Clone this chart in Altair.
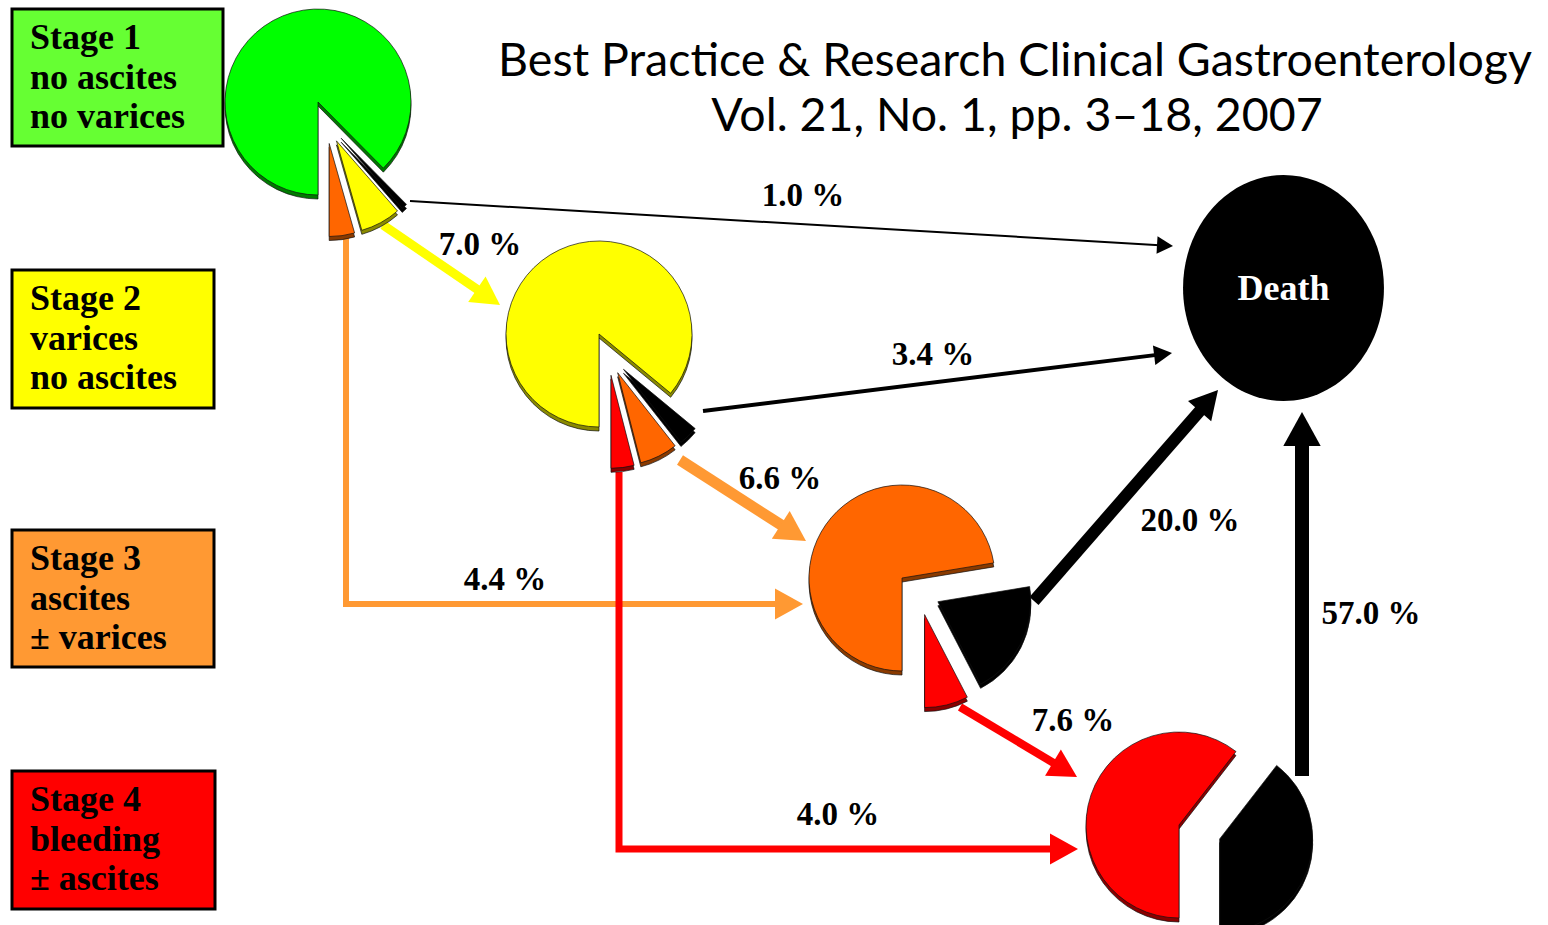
import math
import altair as alt
import pandas as pd

W, H = 1548, 925

# ---------------------------------------------------------------- values
stage_names = ["Stage 1", "Stage 2", "Stage 3", "Stage 4"]
stage_lines = [
    ["no ascites", "no varices"],
    ["varices", "no ascites"],
    ["ascites", "± varices"],
    ["bleeding", "± ascites"],
]

# one-year transition probabilities (%)
trans_from = ["Stage 1", "Stage 1", "Stage 1", "Stage 2", "Stage 2", "Stage 2",
              "Stage 3", "Stage 3", "Stage 4"]
trans_to = ["Death", "Stage 2", "Stage 3", "Death", "Stage 3", "Stage 4",
            "Death", "Stage 4", "Death"]
trans_pct = [1.0, 7.0, 4.4, 3.4, 6.6, 4.0, 20.0, 7.6, 57.0]

# pie slices, clockwise from six o'clock (share of the circle, %)
pie_stage = ["Stage 1", "Stage 1", "Stage 1", "Stage 1",
             "Stage 2", "Stage 2", "Stage 2", "Stage 2",
             "Stage 3", "Stage 3", "Stage 3",
             "Stage 4", "Stage 4"]
pie_part = ["Stage 1", "Death", "Stage 2", "Stage 3",
            "Stage 2", "Death", "Stage 3", "Stage 4",
            "Stage 3", "Death", "Stage 4",
            "Stage 4", "Death"]
pie_share = [87.6, 1.0, 7.0, 4.4,
             86.0, 3.4, 6.6, 4.0,
             72.4, 20.0, 7.6,
             60.5, 39.5]

title_lines = ["Best Practice & Research Clinical Gastroenterology",
               "Vol. 21, No. 1, pp. 3–18, 2007"]

# ---------------------------------------------------------------- styling / layout
box_fill = {"Stage 1": "#66ff33", "Stage 2": "#ffff00", "Stage 3": "#ff9933", "Stage 4": "#ff0000"}
box_rect = {"Stage 1": (12, 9, 223, 146), "Stage 2": (12, 270, 214, 408),
            "Stage 3": (12, 530, 214, 667), "Stage 4": (12, 771, 215, 909)}
slice_fill = {"Stage 1": "#00ff00", "Stage 2": "#ffff00", "Stage 3": "#ff6600",
              "Stage 4": "#ff0000", "Death": "#000000"}
slice_rim = {"Stage 1": "#007a00", "Stage 2": "#8a8a00", "Stage 3": "#8a3a00",
             "Stage 4": "#8a0000", "Death": "#000000"}
pie_center = {"Stage 1": (318, 102), "Stage 2": (599, 334),
              "Stage 3": (902, 578), "Stage 4": (1179, 825)}
PIE_R = 93
EXPLODE = 43
RIM = 4

# arrow routes (last point is the arrow tip), shaft width, colour, head length
arrow_pts = [
    [(410, 201), (1173, 246)],
    [(383, 225), (500, 305)],
    [(346, 237), (346, 604), (803, 604)],
    [(703, 411), (1172, 353)],
    [(680, 460), (806, 541)],
    [(619, 472), (619, 849), (1078, 849)],
    [(1034, 601), (1218, 390)],
    [(960, 707), (1077, 777)],
    [(1302, 776), (1302, 412)],
]
arrow_width = [2, 9, 6, 4, 11, 7, 12, 8, 14]
arrow_color = ["#000000", "#ffff00", "#ff9933", "#000000", "#ff9933", "#ff0000",
               "#000000", "#ff0000", "#000000"]
arrow_head = [16, 28, 28, 18, 30, 28, 28, 28, 34]
label_pos = [(803, 206), (480, 255), (505, 590), (933, 365), (780, 489),
             (838, 825), (1190, 531), (1073, 731), (1371, 624)]

# ---------------------------------------------------------------- scales
xs = alt.Scale(domain=[0, W], nice=False, zero=False)
ys = alt.Scale(domain=[0, H], nice=False, zero=False, reverse=True)


def X(f="x"):
    return alt.X(f"{f}:Q", scale=xs, axis=None)


def Y(f="y"):
    return alt.Y(f"{f}:Q", scale=ys, axis=None)


# ---------------------------------------------------------------- stage boxes
box_df = pd.DataFrame([
    {"x0": box_rect[s][0], "y0": box_rect[s][1], "x1": box_rect[s][2],
     "y1": box_rect[s][3], "fill": box_fill[s]} for s in stage_names])
boxes = alt.Chart(box_df).mark_rect(stroke="black", strokeWidth=3).encode(
    x=X("x0"), x2=alt.X2("x1:Q"), y=Y("y0"), y2=alt.Y2("y1:Q"),
    fill=alt.Fill("fill:N", scale=None))

box_text_rows = []
for s, extra in zip(stage_names, stage_lines):
    x0, y0 = box_rect[s][0], box_rect[s][1]
    for k, line in enumerate([s] + extra):
        box_text_rows.append({"x": x0 + 18, "y": y0 + 40 + k * 39.5, "t": line})
box_text = alt.Chart(pd.DataFrame(box_text_rows)).mark_text(
    align="left", baseline="alphabetic", font="Liberation Serif",
    fontWeight="bold", fontSize=36, color="black").encode(x=X(), y=Y(), text="t:N")

# ---------------------------------------------------------------- arrows
shaft_rows, head_rows, label_rows = [], [], []
for i, pts in enumerate(arrow_pts):
    (xa, ya), (xb, yb) = pts[-2], pts[-1]
    d = math.hypot(xb - xa, yb - ya)
    ux, uy = (xb - xa) / d, (yb - ya) / d
    L = arrow_head[i]
    shaft = pts[:-1] + [(xb - ux * L * 0.85, yb - uy * L * 0.85)]
    for k, (px, py) in enumerate(shaft):
        shaft_rows.append({"arrow": i, "k": k, "x": px, "y": py,
                           "color": arrow_color[i], "w": arrow_width[i]})
    head_rows.append({"x": xb, "y": yb, "ang": math.degrees(math.atan2(ux, -uy)) % 360,
                      "s": (2 * L) ** 2, "color": arrow_color[i]})
    label_rows.append({"x": label_pos[i][0], "y": label_pos[i][1],
                       "t": f"{trans_pct[i]:.1f} %"})

shafts = alt.Chart(pd.DataFrame(shaft_rows)).mark_line(
    strokeCap="butt", strokeJoin="miter").encode(
    x=X(), y=Y(), detail="arrow:N", order="k:Q",
    color=alt.Color("color:N", scale=None),
    strokeWidth=alt.StrokeWidth("w:Q", scale=None))

heads = alt.Chart(pd.DataFrame(head_rows)).mark_point(
    shape="M0,0 L0.55,1 L-0.55,1 Z", filled=True, opacity=1, strokeWidth=0).encode(
    x=X(), y=Y(), angle=alt.Angle("ang:Q", scale=None),
    size=alt.Size("s:Q", scale=None), color=alt.Color("color:N", scale=None))

labels = alt.Chart(pd.DataFrame(label_rows)).mark_text(
    align="center", baseline="alphabetic", font="Liberation Serif",
    fontWeight="bold", fontSize=33, color="black").encode(x=X(), y=Y(), text="t:N")

# ---------------------------------------------------------------- pies
pie_rows = []
for s in stage_names:
    idx = [i for i, st in enumerate(pie_stage) if st == s]
    cx, cy = pie_center[s]
    a = math.pi
    spans = []
    for i in idx:
        a1 = a + pie_share[i] / 100 * 2 * math.pi
        spans.append((i, a, a1))
        a = a1
    out = [sp for sp in spans if pie_part[sp[0]] != s]
    group_mid = (out[0][1] + out[-1][2]) / 2 if out else 0
    for i, t0, t1 in spans:
        px, py = cx, cy
        if pie_part[i] != s:
            direction = ((t0 + t1) / 2 + group_mid) / 2
            px += EXPLODE * math.sin(direction)
            py -= EXPLODE * math.cos(direction)
        pie_rows.append({"cx": px, "cy": py, "cy_rim": py + RIM, "t0": t0, "t1": t1,
                         "fill": slice_fill[pie_part[i]], "rim": slice_rim[pie_part[i]]})
pie_df = pd.DataFrame(pie_rows)

rims = alt.Chart(pie_df).mark_arc(stroke="#111111", strokeWidth=0.7).encode(
    x=X("cx"), y=Y("cy_rim"),
    theta=alt.Theta("t0:Q", scale=None, stack=False), theta2=alt.Theta2("t1:Q"),
    radius=alt.value(PIE_R), fill=alt.Fill("rim:N", scale=None))

faces = alt.Chart(pie_df).mark_arc(stroke="#111111", strokeWidth=0.7).encode(
    x=X("cx"), y=Y("cy"),
    theta=alt.Theta("t0:Q", scale=None, stack=False), theta2=alt.Theta2("t1:Q"),
    radius=alt.value(PIE_R), fill=alt.Fill("fill:N", scale=None))

# ---------------------------------------------------------------- death node
death_df = pd.DataFrame([{"x": 1283.5, "y": 288, "t": "Death"}])
ELLIPSE = "M-0.889,0 A0.889,1 0 1,1 0.889,0 A0.889,1 0 1,1 -0.889,0 Z"
death = alt.Chart(death_df).mark_point(
    shape=ELLIPSE, filled=True, opacity=1, color="black", size=226 ** 2, strokeWidth=0
).encode(x=X(), y=Y())
death_text = alt.Chart(death_df).mark_text(
    align="center", baseline="middle", font="Liberation Serif", fontWeight="bold",
    fontSize=36, color="white", dy=1).encode(x=X(), y=Y(), text="t:N")

# ---------------------------------------------------------------- header
title_df = pd.DataFrame([{"x": 1015, "y": 76, "t": title_lines[0]},
                         {"x": 1017, "y": 131, "t": title_lines[1]}])
title = alt.Chart(title_df).mark_text(
    align="center", baseline="alphabetic", font="Lato", fontSize=46.5,
    color="black").encode(x=X(), y=Y(), text="t:N")

chart = alt.layer(
    boxes, box_text, shafts, heads, rims, faces, death, death_text, labels, title
).properties(
    width=W, height=H, padding=0, background="white",
    autosize=alt.AutoSizeParams(type="none"),
).configure_view(strokeWidth=0)

chart.save("out.html", embed_options={"renderer": "svg", "actions": False})
